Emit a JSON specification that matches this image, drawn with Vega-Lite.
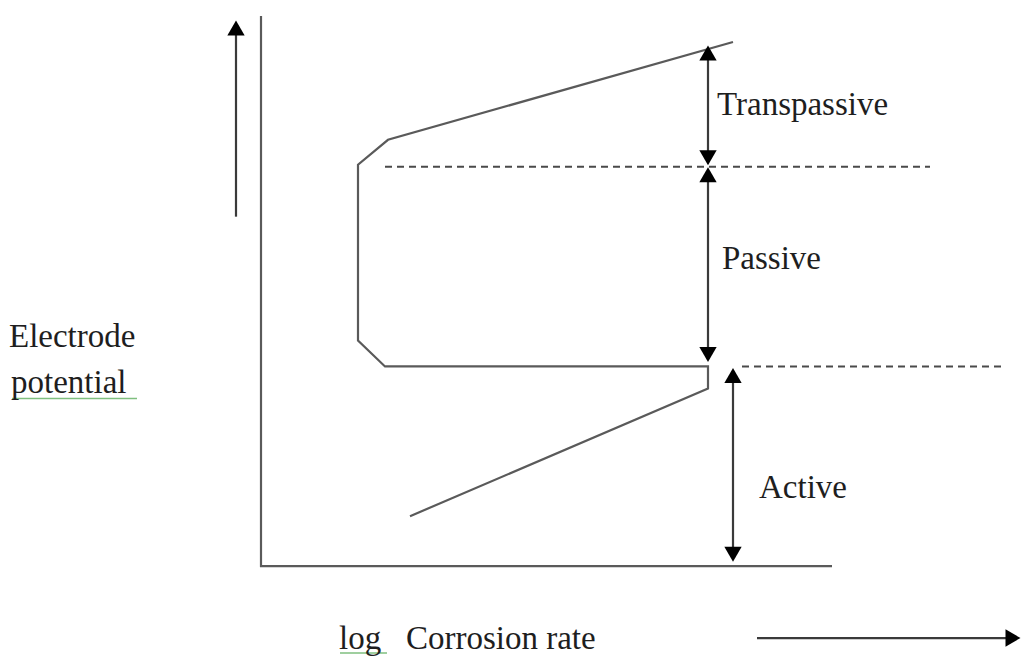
{
  "$schema": "https://vega.github.io/schema/vega-lite/v6.json",
  "width": 1021,
  "height": 656,
  "autosize": {"type": "fit", "contains": "padding"},
  "padding": 0,
  "background": "white",
  "config": {"view": {"stroke": null}},
  "layer": [
    {
      "data": {"values": [
        {"path": "curve", "o": 1, "x": 410, "y": 517},
        {"path": "curve", "o": 2, "x": 708, "y": 389},
        {"path": "curve", "o": 3, "x": 708, "y": 367},
        {"path": "curve", "o": 4, "x": 385, "y": 367},
        {"path": "curve", "o": 5, "x": 358, "y": 341},
        {"path": "curve", "o": 6, "x": 358, "y": 165},
        {"path": "curve", "o": 7, "x": 388, "y": 140},
        {"path": "curve", "o": 8, "x": 733, "y": 42},
        {"path": "axes", "o": 1, "x": 261, "y": 16},
        {"path": "axes", "o": 2, "x": 261, "y": 567},
        {"path": "axes", "o": 3, "x": 832, "y": 567}
      ]},
      "mark": {"type": "line", "color": "#5a5a5a", "strokeWidth": 2.2},
      "encoding": {
        "x": {"field": "x", "type": "quantitative", "scale": {"domain": [0, 1021], "nice": false, "zero": false}, "axis": null},
        "y": {"field": "y", "type": "quantitative", "scale": {"domain": [0, 656], "nice": false, "zero": false, "reverse": true}, "axis": null},
        "detail": {"field": "path"},
        "order": {"field": "o"}
      }
    },
    {
      "data": {"values": [
        {"x": 236, "y": 217, "x2": 236, "y2": 32},
        {"x": 708, "y": 54, "x2": 708, "y2": 156},
        {"x": 708, "y": 177, "x2": 708, "y2": 354},
        {"x": 733, "y": 378, "x2": 733, "y2": 554},
        {"x": 757, "y": 639, "x2": 1010, "y2": 639}
      ]},
      "mark": {"type": "rule", "color": "#3a3a3a", "strokeWidth": 2.2},
      "encoding": {
        "x": {"field": "x", "type": "quantitative", "scale": {"domain": [0, 1021], "nice": false, "zero": false}, "axis": null},
        "y": {"field": "y", "type": "quantitative", "scale": {"domain": [0, 656], "nice": false, "zero": false, "reverse": true}, "axis": null},
        "x2": {"field": "x2"},
        "y2": {"field": "y2"}
      }
    },
    {
      "data": {"values": [
        {"x": 385, "y": 167, "x2": 930, "y2": 167},
        {"x": 742, "y": 367, "x2": 1005, "y2": 367}
      ]},
      "mark": {"type": "rule", "color": "#4a4a4a", "strokeWidth": 2, "strokeDash": [7, 5]},
      "encoding": {
        "x": {"field": "x", "type": "quantitative", "scale": {"domain": [0, 1021], "nice": false, "zero": false}, "axis": null},
        "y": {"field": "y", "type": "quantitative", "scale": {"domain": [0, 656], "nice": false, "zero": false, "reverse": true}, "axis": null},
        "x2": {"field": "x2"},
        "y2": {"field": "y2"}
      }
    },
    {
      "data": {"values": [
        {"x": 236, "y": 28, "dir": "triangle-up"},
        {"x": 708, "y": 53, "dir": "triangle-up"},
        {"x": 708, "y": 158, "dir": "triangle-down"},
        {"x": 708, "y": 175, "dir": "triangle-up"},
        {"x": 708, "y": 355, "dir": "triangle-down"},
        {"x": 733, "y": 376, "dir": "triangle-up"},
        {"x": 733, "y": 555, "dir": "triangle-down"},
        {"x": 1013, "y": 639, "dir": "triangle-right"}
      ]},
      "mark": {"type": "point", "filled": true, "color": "black", "opacity": 1, "size": 300},
      "encoding": {
        "x": {"field": "x", "type": "quantitative", "scale": {"domain": [0, 1021], "nice": false, "zero": false}, "axis": null},
        "y": {"field": "y", "type": "quantitative", "scale": {"domain": [0, 656], "nice": false, "zero": false, "reverse": true}, "axis": null},
        "shape": {"field": "dir", "type": "nominal", "scale": null, "legend": null}
      }
    },
    {
      "data": {"values": [
        {"x": 12, "y": 399, "x2": 137, "y2": 399},
        {"x": 340, "y": 654, "x2": 387, "y2": 654}
      ]},
      "mark": {"type": "rule", "color": "#7fbf7f", "strokeWidth": 1.5},
      "encoding": {
        "x": {"field": "x", "type": "quantitative", "scale": {"domain": [0, 1021], "nice": false, "zero": false}, "axis": null},
        "y": {"field": "y", "type": "quantitative", "scale": {"domain": [0, 656], "nice": false, "zero": false, "reverse": true}, "axis": null},
        "x2": {"field": "x2"},
        "y2": {"field": "y2"}
      }
    },
    {
      "data": {"values": [
        {"label": "Transpassive", "x": 717, "y": 115},
        {"label": "Passive", "x": 722, "y": 269},
        {"label": "Active", "x": 759, "y": 499},
        {"label": "Electrode", "x": 9, "y": 348},
        {"label": "potential", "x": 11, "y": 394},
        {"label": "log\u00a0\u00a0\u00a0Corrosion rate", "x": 339, "y": 650}
      ]},
      "mark": {"type": "text", "align": "left", "baseline": "alphabetic", "font": "Liberation Serif", "fontSize": 33, "color": "#1e1e1e"},
      "encoding": {
        "x": {"field": "x", "type": "quantitative", "scale": {"domain": [0, 1021], "nice": false, "zero": false}, "axis": null},
        "y": {"field": "y", "type": "quantitative", "scale": {"domain": [0, 656], "nice": false, "zero": false, "reverse": true}, "axis": null},
        "text": {"field": "label"}
      }
    }
  ]
}
